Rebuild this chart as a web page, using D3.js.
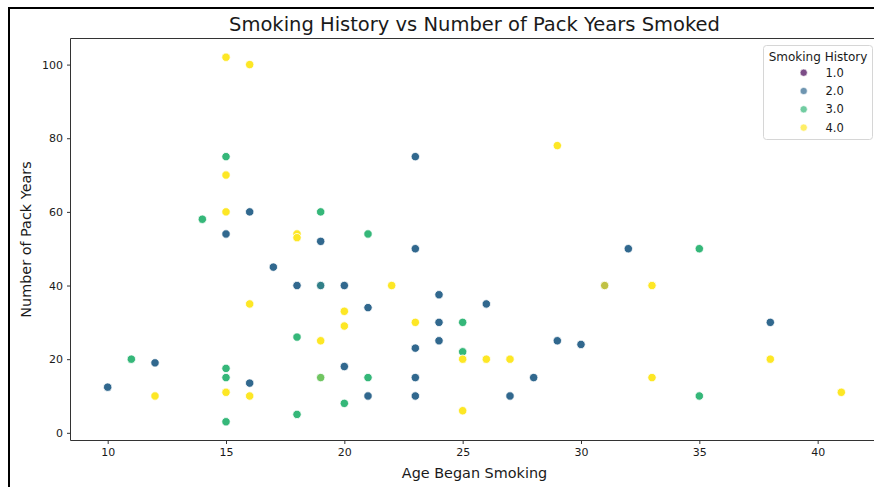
<!DOCTYPE html>
<html>
<head>
<meta charset="utf-8">
<script src="https://cdn.jsdelivr.net/npm/d3@7"></script>
<style>
  body { margin: 0; background: white; }
  text { font-family: "DejaVu Sans", sans-serif; fill: #1a1a1a; }
</style>
</head>
<body>
<svg id="chart" width="874" height="487"></svg>
<script>
// age began smoking, pack years, smoking history (1-4)
let ages = [15, 16, 15, 15, 14, 15, 16, 19, 15, 18, 18, 19, 21, 23, 29, 17, 18, 19, 19, 20, 21, 16, 20, 20,
  18, 19, 11, 12, 10, 12, 15, 15, 15, 15, 16, 16, 20, 19, 19, 20, 18, 21, 21, 23, 22, 24, 26, 23, 24,
  25, 24, 23, 25, 25, 26, 27, 29, 30, 31, 31, 32, 33, 23, 28, 33, 23, 27, 25, 35, 33, 38, 38, 35, 41];
let pack_years = [102, 100, 75, 70, 58, 60, 60, 60, 54, 54, 53, 52, 54, 75, 78, 45, 40, 40, 40, 40, 34, 35, 33, 29,
  26, 25, 20, 19, 12.4, 10, 17.5, 15, 11, 3, 13.5, 10, 18, 15, 15, 8, 5, 15, 10, 50, 40, 37.5, 35, 30, 30,
  30, 25, 23, 22, 20, 20, 20, 25, 24, 40, 40, 50, 40, 15, 15, 15, 10, 10, 6, 50, 40, 30, 20, 10, 11];
let history = [4, 4, 3, 4, 3, 4, 2, 3, 2, 4, 4, 2, 3, 2, 4, 2, 2, 3, 2, 2, 2, 4, 4, 4,
  3, 4, 3, 2, 2, 4, 3, 3, 4, 3, 2, 4, 2, 4, 3, 3, 3, 3, 2, 2, 4, 2, 2, 4, 2,
  3, 2, 2, 3, 4, 4, 4, 2, 2, 2, 4, 2, 4, 2, 2, 4, 2, 2, 4, 3, 4, 2, 4, 3, 4];
let legend_levels = [1, 2, 3, 4];
let x_ticks = [10, 15, 20, 25, 30, 35, 40];
let y_ticks = [0, 20, 40, 60, 80, 100];

let svg = d3.select("#chart");

let plot_left = 71, plot_right = 878, plot_top = 39, plot_bottom = 440;

let data = ages.map((a, i) => ({ x: a, y: pack_years[i], h: history[i] }));

// matplotlib style 5% padding around the data
let pad = (ext) => { let r = ext[1] - ext[0]; return [ext[0] - r * 0.05, ext[1] + r * 0.05]; };

let x_scale = d3.scaleLinear()
  .domain(pad(d3.extent(ages)))
  .range([plot_left, plot_right]);
let y_scale = d3.scaleLinear()
  .domain(pad(d3.extent(pack_years)))
  .range([plot_bottom, plot_top]);
let color = d3.scaleSequential(d3.interpolateViridis)
  .domain([1, 4]);

// outer black frame (cropped screenshot)
svg.append("rect")
  .attr("x", 9)
  .attr("y", 8)
  .attr("width", 900)
  .attr("height", 500)
  .attr("fill", "none")
  .attr("stroke", "black")
  .attr("stroke-width", 2);

svg.append("text")
  .attr("x", (plot_left + plot_right) / 2)
  .attr("y", 31)
  .attr("text-anchor", "middle")
  .style("font-size", "19.5px")
  .text("Smoking History vs Number of Pack Years Smoked");

// points, later duplicates at the same spot are partly see-through
let seen = {};
svg.append("g")
  .selectAll("circle")
  .data(data)
  .enter().append("circle")
    .attr("cx", (d) => x_scale(d.x))
    .attr("cy", (d) => y_scale(d.y))
    .attr("r", 4.2)
    .attr("fill", (d) => color(d.h))
    .attr("fill-opacity", (d) => {
      let key = d.x + "_" + d.y;
      let op = seen[key] ? 0.7 : 1;
      seen[key] = true;
      return op;
    })
    .attr("stroke", "white")
    .attr("stroke-width", 0.8);

// spines
svg.append("path")
  .attr("fill", "none")
  .attr("stroke", "#333")
  .attr("stroke-width", 1)
  .attr("d", "M" + (plot_left - 0.5) + "," + (plot_bottom + 0.5) + "V" + (plot_top - 0.5)
    + "H" + plot_right + "V" + (plot_bottom + 0.5) + "Z");

// x axis
let x_axis = svg.append("g")
  .attr("transform", "translate(0," + (plot_bottom + 0.5) + ")")
  .call(d3.axisBottom(x_scale).tickValues(x_ticks).tickSize(3.5).tickPadding(4).tickFormat(d3.format("d")));
x_axis.select(".domain").remove();
x_axis.selectAll("line").attr("stroke", "#333");
x_axis.selectAll("text")
  .style("font-size", "11px")
  .style("font-family", "DejaVu Sans")
  .attr("fill", "#1a1a1a");

// y axis
let y_axis = svg.append("g")
  .attr("transform", "translate(" + (plot_left - 0.5) + ",0)")
  .call(d3.axisLeft(y_scale).tickValues(y_ticks).tickSize(3.5).tickPadding(4).tickFormat(d3.format("d")));
y_axis.select(".domain").remove();
y_axis.selectAll("line").attr("stroke", "#333");
y_axis.selectAll("text")
  .style("font-size", "11px")
  .style("font-family", "DejaVu Sans")
  .attr("fill", "#1a1a1a");

svg.append("text")
  .attr("x", (plot_left + plot_right) / 2)
  .attr("y", 478)
  .attr("text-anchor", "middle")
  .style("font-size", "14.4px")
  .text("Age Began Smoking");

svg.append("text")
  .attr("transform", "translate(31," + ((plot_top + plot_bottom) / 2) + ") rotate(-90)")
  .attr("text-anchor", "middle")
  .style("font-size", "14.4px")
  .text("Number of Pack Years");

// legend
let legend = svg.append("g")
  .attr("transform", "translate(763.5,45.5)");
legend.append("rect")
  .attr("width", 109)
  .attr("height", 94)
  .attr("rx", 3)
  .attr("fill", "white")
  .attr("fill-opacity", 0.8)
  .attr("stroke", "#d6d6d6");
legend.append("text")
  .attr("x", 54.5)
  .attr("y", 15)
  .attr("text-anchor", "middle")
  .style("font-size", "12px")
  .text("Smoking History");
let entry = legend.selectAll("g.entry")
  .data(legend_levels)
  .enter().append("g")
    .attr("class", "entry")
    .attr("transform", (d, i) => "translate(0," + (27.2 + i * 18.3) + ")");
entry.append("circle")
  .attr("cx", 40.2)
  .attr("r", 3.6)
  .attr("fill", (d) => color(d))
  .attr("fill-opacity", 0.7)
  .attr("stroke", "white")
  .attr("stroke-width", 0.6);
entry.append("text")
  .attr("x", 62)
  .attr("y", 4)
  .style("font-size", "11.5px")
  .text((d) => d3.format(".1f")(d));
</script>
</body>
</html>
